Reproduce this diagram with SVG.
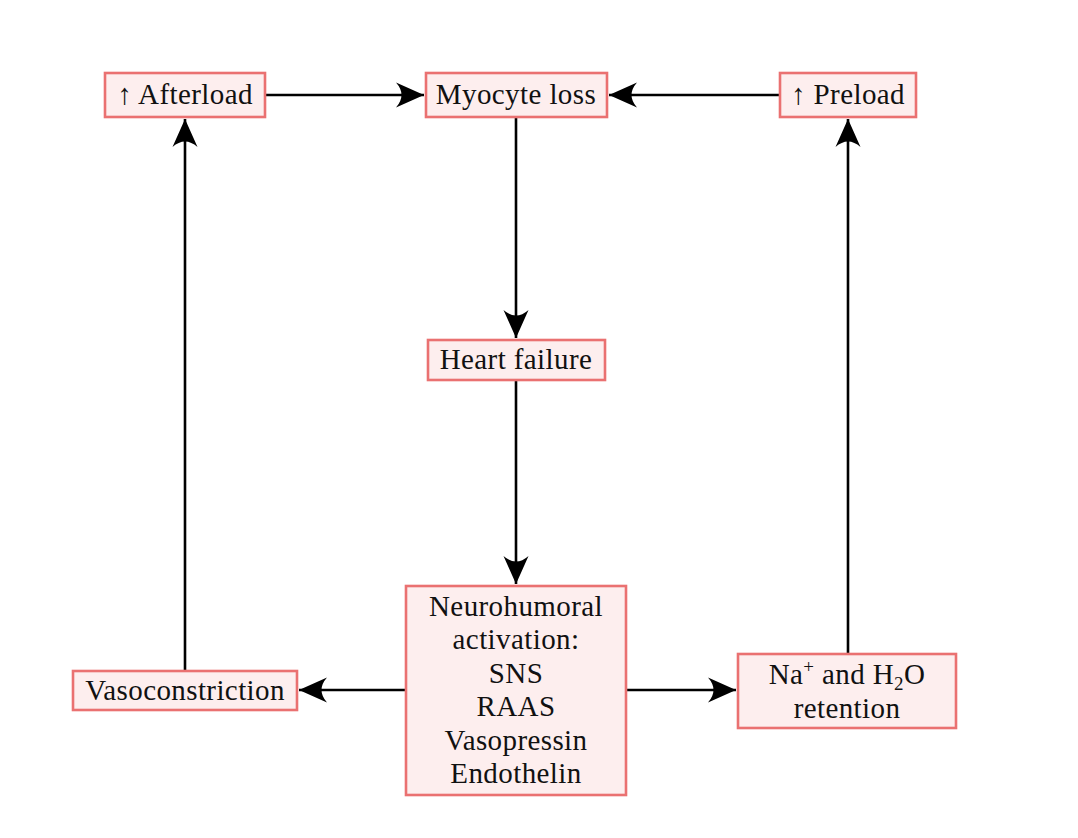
<svg xmlns="http://www.w3.org/2000/svg" width="1078" height="838" viewBox="0 0 1078 838">
<style>
.box{fill:#fdeeee;stroke:#ea7171;stroke-width:2.6}
.t{font-family:"Liberation Serif","DejaVu Serif",serif;font-size:29px;letter-spacing:0.4px;fill:#111;text-anchor:middle}
.c{stroke:#000;stroke-width:2.6;fill:none;marker-end:url(#ah)}
</style>
<defs>
<marker id="ah" markerUnits="userSpaceOnUse" markerWidth="32" markerHeight="30" viewBox="-30 -14 32 28" refX="0" refY="0" orient="auto">
<path d="M0,0 L-28,-12.5 Q-17,0 -28,12.5 Z" fill="#000"/>
</marker>
</defs>
<rect width="1078" height="838" fill="#fff"/>
<g id="connectors">
<line class="c" x1="266" y1="95" x2="424" y2="95"/>
<line class="c" x1="779" y1="95" x2="609" y2="95"/>
<line class="c" x1="516" y1="118" x2="516" y2="338"/>
<line class="c" x1="516" y1="381" x2="516" y2="584"/>
<line class="c" x1="405" y1="690" x2="299" y2="690"/>
<line class="c" x1="627" y1="690" x2="736" y2="690"/>
<line class="c" x1="185" y1="670" x2="185" y2="119"/>
<line class="c" x1="848" y1="653" x2="848" y2="119"/>
</g>
<g id="afterload">
<rect class="box" x="105" y="73" width="160" height="44"/>
<text class="t" x="185" y="104">↑ Afterload</text>
</g>
<g id="myocyte">
<rect class="box" x="426" y="73" width="181" height="44"/>
<text class="t" x="516" y="104">Myocyte loss</text>
</g>
<g id="preload">
<rect class="box" x="780" y="73" width="136" height="44"/>
<text class="t" x="848" y="104">↑ Preload</text>
</g>
<g id="heartfailure">
<rect class="box" x="428" y="340" width="177" height="40"/>
<text class="t" x="516" y="369">Heart failure</text>
</g>
<g id="neurohumoral">
<rect class="box" x="406" y="586" width="220" height="209"/>
<text class="t" x="516" y="616">Neurohumoral</text>
<text class="t" x="516" y="649">activation:</text>
<text class="t" x="516" y="683">SNS</text>
<text class="t" x="516" y="716">RAAS</text>
<text class="t" x="516" y="750">Vasopressin</text>
<text class="t" x="516" y="783">Endothelin</text>
</g>
<g id="vasoconstriction">
<rect class="box" x="73" y="671" width="224" height="39"/>
<text class="t" x="185" y="700">Vasoconstriction</text>
</g>
<g id="retention">
<rect class="box" x="738" y="654" width="218" height="74"/>
<text class="t" x="847" y="684">Na<tspan font-size="19" dy="-11">+</tspan><tspan dy="11"> and H</tspan><tspan font-size="19" dy="6">2</tspan><tspan dy="-6">O</tspan></text>
<text class="t" x="847" y="718">retention</text>
</g>
</svg>
